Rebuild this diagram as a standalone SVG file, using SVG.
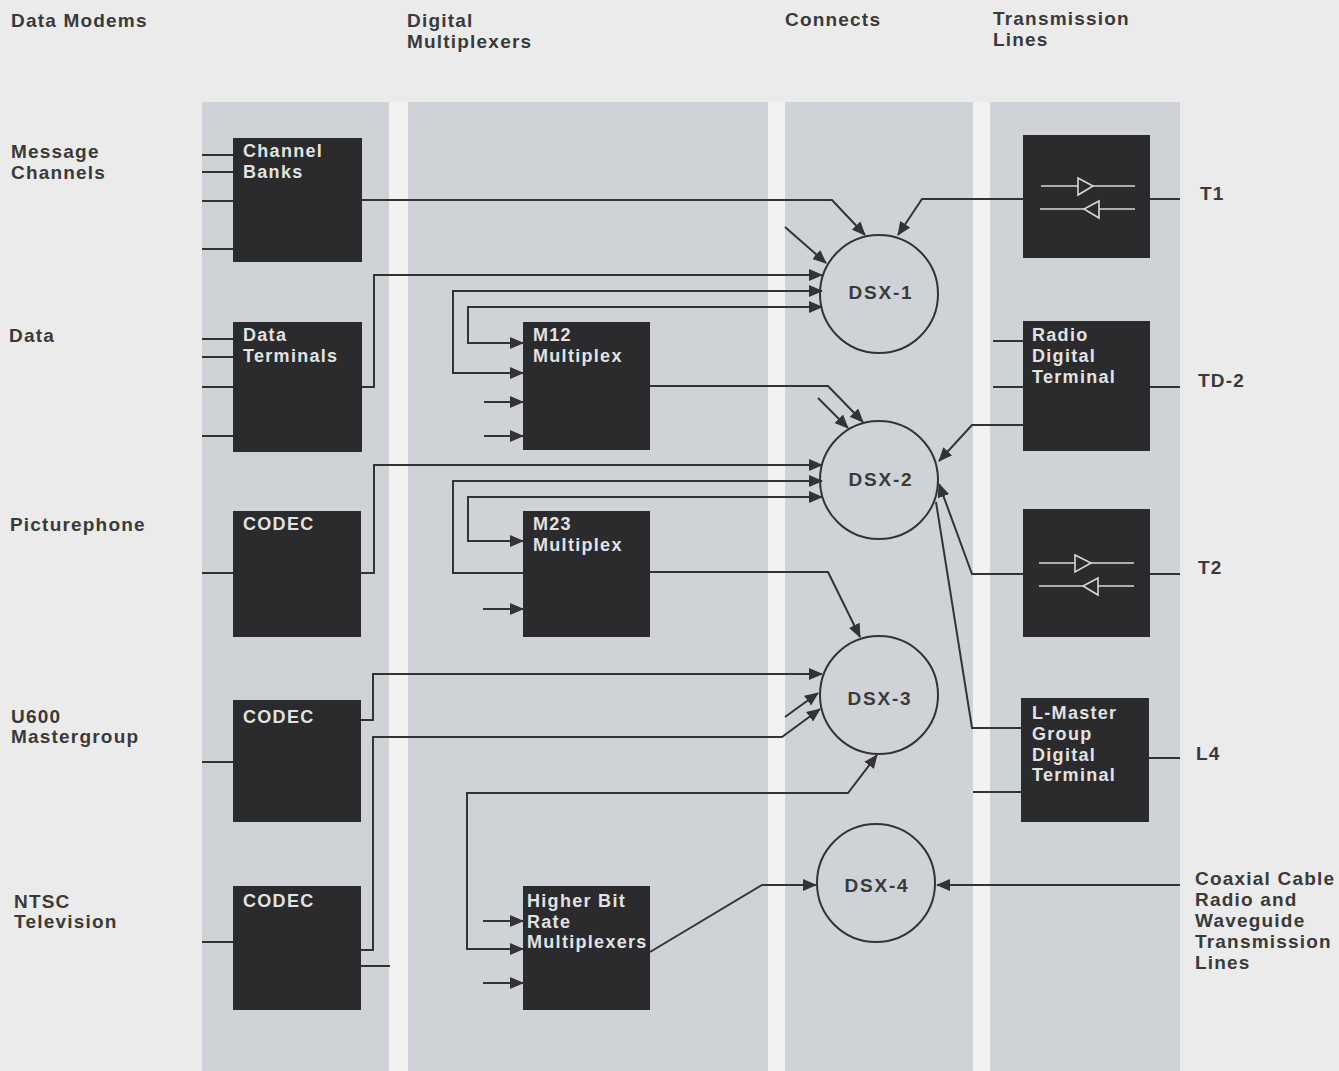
<svg xmlns="http://www.w3.org/2000/svg" width="1339" height="1071" viewBox="0 0 1339 1071">
<style>
.lbl{font-family:"Liberation Sans",Arial,sans-serif;font-weight:bold;font-size:19px;letter-spacing:1.2px;fill:#3a3a3a}
.btx{font-family:"Liberation Sans",Arial,sans-serif;font-weight:bold;font-size:18px;letter-spacing:1.3px;fill:#e2e2e2}
.dsx{font-family:"Liberation Sans",Arial,sans-serif;font-weight:bold;font-size:19px;letter-spacing:1.8px;fill:#3a3a3a;text-anchor:middle}
.box{fill:#2b2b2d}
.band{fill:#cfd2d7}
.c{fill:none;stroke:#333;stroke-width:2}
.w{fill:none;stroke:#333;stroke-width:2}
.a{marker-end:url(#ah)}
.b{marker-start:url(#ah);marker-end:url(#ah)}
.s{marker-start:url(#ah)}
.sym{stroke:#d8d8d8;stroke-width:1.6;fill:#2b2b2d}
</style>
<defs>
<marker id="ah" markerUnits="userSpaceOnUse" markerWidth="14" markerHeight="12" viewBox="0 0 14 12" refX="13" refY="6" orient="auto-start-reverse">
<path d="M0,0 L14,6 L0,12 Z" fill="#333"/>
</marker>
</defs>
<rect x="0" y="0" width="1339" height="1071" fill="#ebebec"/>
<rect x="202" y="102" width="978" height="969" fill="#f2f2f3"/>
<g id="bands">
<rect class="band" x="202" y="102" width="187" height="969"/>
<rect class="band" x="408" y="102" width="360" height="969"/>
<rect class="band" x="785" y="102" width="188" height="969"/>
<rect class="band" x="990" y="102" width="190" height="969"/>
</g>
<g id="headings">
<text class="lbl" x="11" y="27">Data Modems</text>
<text class="lbl" x="407" y="27">Digital</text>
<text class="lbl" x="407" y="48">Multiplexers</text>
<text class="lbl" x="785" y="26">Connects</text>
<text class="lbl" x="993" y="25">Transmission</text>
<text class="lbl" x="993" y="46">Lines</text>
</g>
<g id="row-labels">
<text class="lbl" x="11" y="158">Message</text>
<text class="lbl" x="11" y="179">Channels</text>
<text class="lbl" x="9" y="342">Data</text>
<text class="lbl" x="10" y="531">Picturephone</text>
<text class="lbl" x="11" y="723">U600</text>
<text class="lbl" x="11" y="743">Mastergroup</text>
<text class="lbl" x="14" y="908">NTSC</text>
<text class="lbl" x="14" y="928">Television</text>
<text class="lbl" x="1200" y="200">T1</text>
<text class="lbl" x="1198" y="387">TD-2</text>
<text class="lbl" x="1198" y="574">T2</text>
<text class="lbl" x="1196" y="760">L4</text>
<text class="lbl" x="1195" y="885">Coaxial Cable</text>
<text class="lbl" x="1195" y="906">Radio and</text>
<text class="lbl" x="1195" y="927">Waveguide</text>
<text class="lbl" x="1195" y="948">Transmission</text>
<text class="lbl" x="1195" y="969">Lines</text>
</g>
<g id="connectors">
<path class="w" d="M202,155H233M202,172H233M202,201H233M202,249H233"/>
<path class="w" d="M202,339H233M202,357H233M202,387H233M202,436H233"/>
<path class="w" d="M202,573H233M202,762H233M202,942H233M361,966H390"/>
<path class="w" d="M993,341H1023M993,387H1023M1150,387H1180M1150,199H1180M1150,574H1180M973,792H1021M1149,758H1180"/>
<path class="w a" d="M362,200H832L865,235"/>
<path class="w a" d="M1023,199H922L898,235"/>
<path class="w a" d="M785,227L826,263"/>
<path class="w a" d="M362,387H374V275H822"/>
<path class="w b" d="M822,291H453V373H523"/>
<path class="w b" d="M822,307H468V343H523"/>
<path class="w a" d="M484,402H523"/>
<path class="w a" d="M484,436H523"/>
<path class="w a" d="M650,386H828L863,422"/>
<path class="w a" d="M818,398L848,428"/>
<path class="w a" d="M361,573H374V465H822"/>
<path class="w s" d="M822,481H453V573H523"/>
<path class="w b" d="M822,497H468V541H523"/>
<path class="w a" d="M483,609H523"/>
<path class="w a" d="M650,572H828L860,637"/>
<path class="w a" d="M361,720H373V674H822"/>
<path class="w a" d="M785,717L818,693"/>
<path class="w a" d="M361,950H373V737H782L820,709"/>
<path class="w b" d="M877,755L848,793H467V949H523"/>
<path class="w a" d="M483,921H523"/>
<path class="w a" d="M483,983H523"/>
<path class="w a" d="M650,952L762,885H816"/>
<path class="w a" d="M1180,885H937"/>
<path class="w a" d="M1023,425H972L939,461"/>
<path class="w a" d="M1023,574H972L939,484"/>
<path class="w" d="M936,502L972,728H1021"/>
</g>
<g id="channel-banks"><rect class="box" x="233" y="138" width="129" height="124"/><text class="btx" x="243" y="157">Channel</text><text class="btx" x="243" y="178">Banks</text></g>
<g id="data-terminals"><rect class="box" x="233" y="322" width="129" height="130"/><text class="btx" x="243" y="341">Data</text><text class="btx" x="243" y="362">Terminals</text></g>
<g id="codec-picturephone"><rect class="box" x="233" y="511" width="128" height="126"/><text class="btx" x="243" y="530">CODEC</text></g>
<g id="codec-u600"><rect class="box" x="233" y="700" width="128" height="122"/><text class="btx" x="243" y="723">CODEC</text></g>
<g id="codec-ntsc"><rect class="box" x="233" y="886" width="128" height="124"/><text class="btx" x="243" y="907">CODEC</text></g>
<g id="m12"><rect class="box" x="523" y="322" width="127" height="128"/><text class="btx" x="533" y="341">M12</text><text class="btx" x="533" y="362">Multiplex</text></g>
<g id="m23"><rect class="box" x="523" y="511" width="127" height="126"/><text class="btx" x="533" y="530">M23</text><text class="btx" x="533" y="551">Multiplex</text></g>
<g id="hbrm"><rect class="box" x="523" y="886" width="127" height="124"/><text class="btx" x="527" y="907">Higher Bit</text><text class="btx" x="527" y="928">Rate</text><text class="btx" x="527" y="948">Multiplexers</text></g>
<g id="t1-terminal"><rect class="box" x="1023" y="135" width="127" height="123"/>
<path class="sym" d="M1041,186H1135M1040,209H1135"/><path class="sym" d="M1078,178L1093,186L1078,195Z"/><path class="sym" d="M1099,201L1084,209L1099,218Z"/></g>
<g id="radio-digital-terminal"><rect class="box" x="1023" y="321" width="127" height="130"/><text class="btx" x="1032" y="341">Radio</text><text class="btx" x="1032" y="362">Digital</text><text class="btx" x="1032" y="383">Terminal</text></g>
<g id="t2-terminal"><rect class="box" x="1023" y="509" width="127" height="128"/>
<path class="sym" d="M1039,563H1134M1039,586H1134"/><path class="sym" d="M1075,555L1091,563L1075,572Z"/><path class="sym" d="M1098,578L1083,586L1098,595Z"/></g>
<g id="l-master"><rect class="box" x="1021" y="698" width="128" height="124"/><text class="btx" x="1032" y="719">L-Master</text><text class="btx" x="1032" y="740">Group</text><text class="btx" x="1032" y="761">Digital</text><text class="btx" x="1032" y="781">Terminal</text></g>
<g id="dsx-1"><circle class="c" cx="879" cy="294" r="59"/><text class="dsx" x="881" y="299">DSX-1</text></g>
<g id="dsx-2"><circle class="c" cx="879" cy="480" r="59"/><text class="dsx" x="881" y="486">DSX-2</text></g>
<g id="dsx-3"><circle class="c" cx="879" cy="695" r="59"/><text class="dsx" x="880" y="705">DSX-3</text></g>
<g id="dsx-4"><circle class="c" cx="876" cy="883" r="59"/><text class="dsx" x="877" y="892">DSX-4</text></g>
</svg>
